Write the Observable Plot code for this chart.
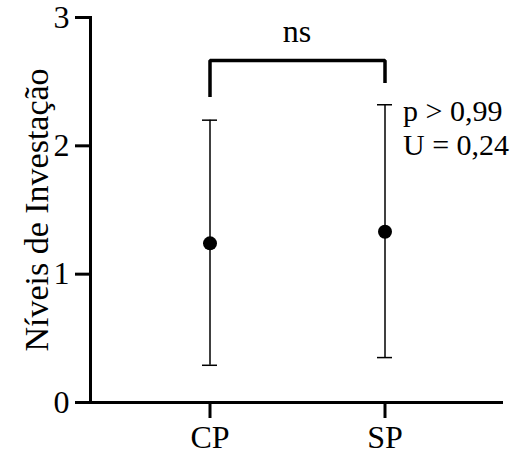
<!DOCTYPE html>
<html>
<head>
<meta charset="utf-8">
<script src="https://cdn.jsdelivr.net/npm/d3@7"></script>
<script src="https://cdn.jsdelivr.net/npm/@observablehq/plot@0.6"></script>
<style>
  html, body { margin: 0; padding: 0; background: #fff; }
  svg text { font-family: "Liberation Serif", "Times New Roman", serif !important; }
</style>
</head>
<body>
<div id="chart"></div>
<script>
const categories = ["CP", "SP"];
const means = [1.24, 1.33];
const lows = [0.29, 0.35];
const highs = [2.20, 2.32];
const yTicks = [0, 1, 2, 3];
const bracketX = ["CP", "CP", "SP", "SP"];
const bracketY = [2.38, 2.665, 2.665, 2.49];
const sigLabel = "ns";
const statsCategory = "SP";
const statsLines = ["p > 0,99", "U = 0,24"];
const statsY = 2.38;
const sigY = 2.81;
const yLabel = "Níveis de Investação";

const rows = categories.map((c, i) => ({cat: c, mean: means[i], lo: lows[i], hi: highs[i]}));
const bracket = bracketX.map((x, i) => ({x, y: bracketY[i]}));

const font = "'Liberation Serif', 'Times New Roman', serif";
const fs = 32;

const chart = Plot.plot({
  width: 523,
  height: 456,
  marginLeft: 90,
  marginRight: 20,
  marginTop: 17,
  marginBottom: 54,
  style: {fontFamily: font, fontSize: fs + "px", background: "#fff", color: "#000"},
  x: {type: "band", domain: categories, paddingInner: 0.915, paddingOuter: 0.631, align: 0.5},
  y: {domain: [0, 3]},
  marks: [
    Plot.frame({anchor: "left", strokeWidth: 3, stroke: "#000"}),
    Plot.ruleY([0], {strokeWidth: 3, stroke: "#000"}),
    Plot.axisY({ticks: yTicks, tickFormat: d3.format("d"), tickSize: 15, tickPadding: 6, strokeWidth: 3,
      fontSize: fs, fontFamily: font, label: null}),
    Plot.axisY({ticks: [], tickSize: 0, fontSize: 34, fontFamily: font,
      label: yLabel, labelAnchor: "center", labelOffset: 67, labelArrow: "none"}),
    Plot.axisX({tickSize: 16, tickPadding: 7, strokeWidth: 3, fontSize: fs, fontFamily: font, label: null}),
    Plot.ruleX(rows, {x: "cat", y1: "lo", y2: "hi", strokeWidth: 1.5, stroke: "#000"}),
    Plot.tickY(rows, {x: "cat", y: "lo", strokeWidth: 1.5, stroke: "#000"}),
    Plot.tickY(rows, {x: "cat", y: "hi", strokeWidth: 1.5, stroke: "#000"}),
    Plot.dot(rows, {x: "cat", y: "mean", r: 7, fill: "#000", stroke: null}),
    Plot.line(bracket, {x: "x", y: "y", strokeWidth: 3.5, stroke: "#000", strokeLinejoin: "miter", strokeLinecap: "butt"}),
    Plot.text([sigLabel], {y: () => sigY, text: d => d, fontSize: fs, fontFamily: font, lineAnchor: "bottom", fill: "#000"}),
    Plot.text([statsLines.join("\n")], {x: () => statsCategory, y: () => statsY, text: d => d, dx: 18,
      textAnchor: "start", lineAnchor: "top", lineHeight: 1.12, fontSize: 30, fontFamily: font, fill: "#000"})
  ]
});
document.getElementById("chart").appendChild(chart);
</script>
</body>
</html>
